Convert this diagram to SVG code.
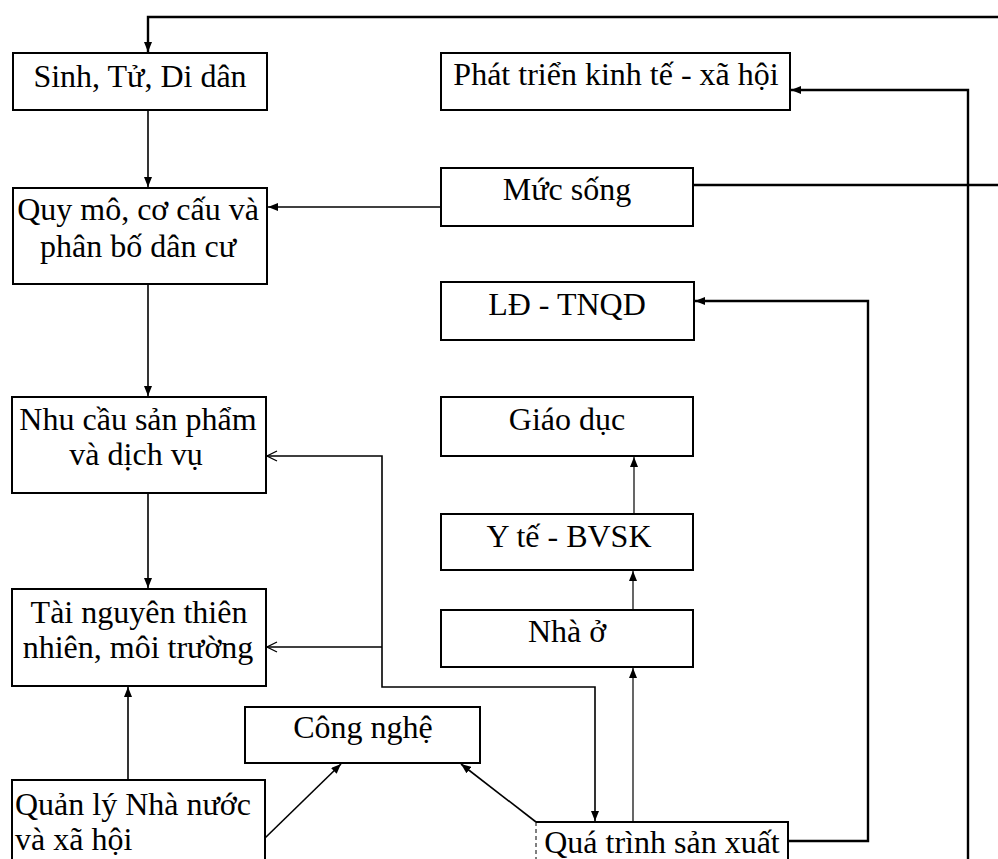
<svg xmlns="http://www.w3.org/2000/svg" width="998" height="859" viewBox="0 0 998 859">
<style>
.box{fill:#fff;stroke:#000;stroke-width:2}
.t{font-family:"Liberation Serif","Times New Roman",serif;font-size:32px;fill:#000}
.c{text-anchor:middle}
.ln{fill:none;stroke:#000;stroke-width:1.6}
.thk{stroke-width:2.4}
.thn{stroke-width:1.2}
</style>
<defs>
<marker id="ah" viewBox="0 0 10 8" refX="10" refY="4" markerWidth="10" markerHeight="8" markerUnits="userSpaceOnUse" orient="auto-start-reverse">
<path d="M0,0 L10,4 L0,8 Z" fill="#000"/>
</marker>
<marker id="oa" viewBox="0 0 12 12" refX="11" refY="6" markerWidth="12" markerHeight="12" markerUnits="userSpaceOnUse" orient="auto-start-reverse">
<path d="M1,1 L11,6 L1,11" fill="none" stroke="#000" stroke-width="1.3"/>
</marker>
</defs>
<rect width="998" height="859" fill="#fff"/>

<g id="connectors">
<path class="ln thk" d="M998,17 H148 V52" marker-end="url(#ah)"/>
<path class="ln" d="M148,110 V187" marker-end="url(#ah)"/>
<path class="ln" d="M148,284 V396" marker-end="url(#ah)"/>
<path class="ln" d="M148,493 V588" marker-end="url(#ah)"/>
<path class="ln" d="M441,207 H268" marker-end="url(#ah)"/>
<path class="ln thk" d="M693,185 H998"/>
<path class="ln thk" d="M968,859 V90 H791" marker-end="url(#ah)"/>
<path class="ln thk" d="M788,841 H868 V301 H695" marker-end="url(#ah)"/>
<path class="ln thn" d="M633,822 V668" marker-end="url(#ah)"/>
<path class="ln thn" d="M633,610 V571" marker-end="url(#ah)"/>
<path class="ln thn" d="M634,514 V457" marker-end="url(#ah)"/>
<path class="ln" d="M267,456 H382 V687 H595 V821" marker-start="url(#oa)" marker-end="url(#ah)"/>
<path class="ln" d="M382,647 H267" marker-end="url(#oa)"/>
<path class="ln" d="M128,780 V687" marker-end="url(#ah)"/>
<path class="ln" d="M265,838 L341,764" marker-end="url(#ah)"/>
<path class="ln" d="M536,822 L461,764" marker-end="url(#ah)"/>
</g>

<g id="sinh-tu-di-dan">
<rect class="box" x="13" y="53" width="254" height="57"/>
<text class="t c" x="140" y="87">Sinh, Tử, Di dân</text>
</g>
<g id="phat-trien">
<rect class="box" x="441" y="53" width="349" height="57"/>
<text class="t c" x="616" y="85">Phát triển kinh tế - xã hội</text>
</g>
<g id="quy-mo">
<rect class="box" x="13" y="188" width="254" height="96"/>
<text class="t c" x="138" y="220">Quy mô, cơ cấu và</text>
<text class="t c" x="138" y="257">phân bố dân cư</text>
</g>
<g id="muc-song">
<rect class="box" x="441" y="168" width="252" height="58"/>
<text class="t c" x="567" y="200">Mức sống</text>
</g>
<g id="ld-tnqd">
<rect class="box" x="441" y="282" width="253" height="58"/>
<text class="t c" x="567" y="315">LĐ - TNQD</text>
</g>
<g id="nhu-cau">
<rect class="box" x="12" y="397" width="254" height="96"/>
<text class="t c" x="138" y="430">Nhu cầu sản phẩm</text>
<text class="t c" x="136" y="465">và dịch vụ</text>
</g>
<g id="giao-duc">
<rect class="box" x="441" y="397" width="252" height="59"/>
<text class="t c" x="567" y="430">Giáo dục</text>
</g>
<g id="y-te">
<rect class="box" x="441" y="514" width="252" height="56"/>
<text class="t c" x="569" y="547">Y tế - BVSK</text>
</g>
<g id="tai-nguyen">
<rect class="box" x="12" y="589" width="254" height="97"/>
<text class="t c" x="139" y="623">Tài nguyên thiên</text>
<text class="t c" x="138" y="658">nhiên, môi trường</text>
</g>
<g id="nha-o">
<rect class="box" x="441" y="610" width="252" height="57"/>
<text class="t c" x="567" y="642">Nhà ở</text>
</g>
<g id="cong-nghe">
<rect class="box" x="245" y="707" width="235" height="56"/>
<text class="t c" x="363" y="738">Công nghệ</text>
</g>
<g id="quan-ly">
<rect class="box" x="12" y="780" width="253" height="100"/>
<text class="t" x="15" y="815">Quản lý Nhà nước</text>
<text class="t" x="15" y="850">và xã hội</text>
</g>
<g id="qua-trinh">
<rect x="536" y="822" width="252" height="60" fill="#fff"/>
<path d="M536,822 H788 V880" fill="none" stroke="#000" stroke-width="2"/>
<path d="M536,822 V880" fill="none" stroke="#000" stroke-width="1" stroke-dasharray="4,3"/>
<text class="t c" x="662" y="853">Quá trình sản xuất</text>
</g>
</svg>
